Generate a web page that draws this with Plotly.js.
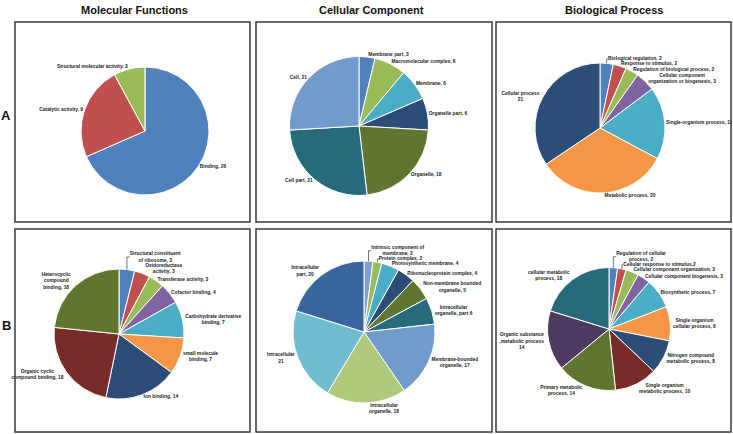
<!DOCTYPE html>
<html>
<head>
<meta charset="utf-8">
<script src="https://cdn.plot.ly/plotly-3.0.1.min.js"></script>
<style>html,body{margin:0;padding:0;background:#fff;}#chart{width:733px;height:434px;}</style>
</head>
<body>
<div id="chart"></div>
<script>
// ---------- DATA ----------
// Row A
const mfA_labels = ["Binding", "Catalytic activity", "Structural molecular activity"];
const mfA_values = [26, 9, 3];

const ccA_labels = ["Membrane part", "Macromolecular complex", "Membrane", "Organelle part", "Organelle", "Cell part", "Cell"];
const ccA_values = [3, 6, 6, 6, 18, 21, 21];

const bpA_labels = ["Biological regulation", "Response to stimulus", "Regulation of biological process",
  "Cellular component<br>organization or biogenesis", "Single-organism process", "Metabolic process", "Cellular process<br>{v}"];
const bpA_values = [2, 2, 2, 3, 11, 20, 21];

// Row B
const mfB_labels = ["Structural constituent<br>of ribosome", "Oxidoreductase<br>activity", "Transferase activity",
  "Cofactor binding", "Carbohydrate derivative<br>binding", "small molecule<br>binding", "Ion binding",
  "Organic cyclic<br>compound binding", "Heterocyclic<br>compound<br>binding"];
const mfB_values = [3, 3, 3, 4, 7, 7, 14, 18, 18];

const ccB_labels = ["Intrinsic component of<br>membrane", "Protein complex", "Photosynthetic membrane",
  "Ribonucleoprotein complex", "Non-membrane bounded<br>organelle", "Intracellular<br>organelle, part {v}",
  "Membrane-bounded<br>organelle", "Intracellular<br>organelle", "Intracellular<br>{v}", "Intracellular<br>part"];
const ccB_values = [2, 2, 4, 4, 5, 6, 17, 18, 21, 20];

const bpB_labels = ["Regulation of cellular<br>process", "Cellular response to stimulus,{v}", "Cellular component organization",
  "Cellular component biogenesis", "Biosynthetic process", "Single organism<br>cellular process",
  "Nitrogen compound<br>metabolic process", "Single organism<br>metabolic process", "Primary metabolic<br>process",
  "Organic substance<br>,metabolic process<br>{v}", "cellular metabolic<br>process"];
const bpB_values = [2, 2, 3, 3, 7, 8, 8, 10, 14, 14, 18];

const columnTitles = ["Molecular Functions", "Cellular Component", "Biological Process"];
const rowTitles = ["A", "B"];

// ---------- STYLE ----------
const C = {
  blue: "#4F81BD", red: "#C0504D", green: "#9BBB59", purple: "#8064A2", aqua: "#4BACC6", orange: "#F79646",
  dblue: "#2C4D75", dred: "#772C2A", dgreen: "#5F7530", dpurple: "#4D3B62", daqua: "#276A7C",
  lblue: "#729ACA", lgreen: "#AFC97A", laqua: "#6FBDD1", mblue: "#3A65A0", pblue: "#7EA0D0"
};
const colors = {
  mfA: [C.blue, C.red, C.green],
  ccA: [C.blue, C.green, C.aqua, C.dblue, C.dgreen, C.daqua, C.lblue],
  bpA: [C.blue, C.red, C.green, C.purple, C.aqua, C.orange, C.dblue],
  mfB: [C.blue, C.red, C.green, C.purple, C.aqua, C.orange, C.dblue, C.dred, C.dgreen],
  ccB: [C.pblue, C.green, C.aqua, C.dblue, C.dgreen, C.daqua, C.lblue, C.lgreen, C.laqua, C.mblue],
  bpB: [C.blue, C.red, C.green, C.purple, C.aqua, C.orange, C.dblue, C.dred, C.dgreen, C.dpurple, C.daqua]
};

const W = 733, H = 434;
const px = x => x / W;
const py = y => 1 - y / H;
const FONT = "'Liberation Sans Narrow', 'Liberation Sans', Arial, sans-serif";
const LABEL_SIZE = 4.9;

function makeText(labels, values) {
  return labels.map((l, i) => l.indexOf("{v}") >= 0 ? l.replace("{v}", values[i]) : l + ", " + values[i]);
}

function pie(labels, values, cols, cx, cy, r) {
  const t = makeText(labels, values);
  return {
    type: "pie",
    labels: labels.map(l => l.replace(/<br>/g, " ").replace("{v}", "").replace(/,$/, "")),
    values: values,
    text: t,
    texttemplate: "%{text}",
    textinfo: "text",
    textposition: "outside",
    sort: false,
    direction: "clockwise",
    rotation: 0,
    hoverinfo: "label+value",
    marker: { colors: cols, line: { color: "#ffffff", width: 1 } },
    outsidetextfont: { family: FONT, size: LABEL_SIZE, color: "#1a1a1a", weight: "bold" },
    textfont: { family: FONT, size: LABEL_SIZE, color: "#1a1a1a", weight: "bold" },
    domain: { x: [px(cx - r), px(cx + r)], y: [py(cy + r), py(cy - r)] },
    automargin: false
  };
}

const data = [
  pie(mfA_labels, mfA_values, colors.mfA, 145, 131, 64),
  pie(ccA_labels, ccA_values, colors.ccA, 359, 126, 69.5),
  pie(bpA_labels, bpA_values, colors.bpA, 600, 128, 65),
  pie(mfB_labels, mfB_values, colors.mfB, 119, 334, 65),
  pie(ccB_labels, ccB_values, colors.ccB, 364, 332, 71),
  pie(bpB_labels, bpB_values, colors.bpB, 609, 329, 61.5)
];

// Panel boxes
const colsX = [[15, 250], [256, 492], [496, 731]];
const rowsY = [[22, 222], [229, 432]];
const shapes = [];
rowsY.forEach(ry => colsX.forEach(cx => {
  shapes.push({ type: "rect", xref: "paper", yref: "paper",
    x0: px(cx[0]), x1: px(cx[1]), y0: py(ry[1]), y1: py(ry[0]),
    line: { color: "#3a3a3a", width: 1.5 }, fillcolor: "rgba(0,0,0,0)" });
}));

const annotations = [];
const titleX = [134, 371, 614];
columnTitles.forEach((t, i) => annotations.push({
  text: "<b>" + t + "</b>", xref: "paper", yref: "paper", x: px(titleX[i]), y: py(10),
  xanchor: "center", yanchor: "middle", showarrow: false,
  font: { family: FONT, size: 11, color: "#111" }
}));
const rowY = [115, 325];
rowTitles.forEach((t, i) => annotations.push({
  text: "<b>" + t + "</b>", xref: "paper", yref: "paper", x: px(6), y: py(rowY[i]),
  xanchor: "center", yanchor: "middle", showarrow: false,
  font: { family: FONT, size: 13, color: "#111" }
}));

const layout = {
  width: W, height: H,
  margin: { l: 0, r: 0, t: 0, b: 0 },
  showlegend: false,
  paper_bgcolor: "#ffffff",
  shapes: shapes,
  annotations: annotations
};

Plotly.newPlot("chart", data, layout, { displayModeBar: false, staticPlot: true });
</script>
</body>
</html>
